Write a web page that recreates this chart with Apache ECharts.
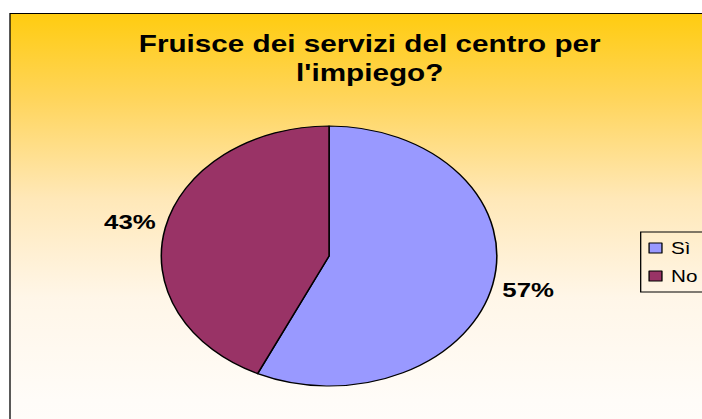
<!DOCTYPE html>
<html>
<head>
<meta charset="utf-8">
<script src="https://cdn.jsdelivr.net/npm/echarts@6/dist/echarts.min.js"></script>
<style>
  html, body { margin: 0; padding: 0; background: #fff; }
  #frame { width: 702px; height: 419px; overflow: hidden; }
  /* the original is a circular pie in a horizontally stretched chart */
  #chart { width: 544px; height: 419px; transform: scaleX(1.2904); transform-origin: 0 0; }
</style>
</head>
<body>
<div id="frame"><div id="chart"></div></div>
<script>
// --- Data ---
const titleText = 'Fruisce dei servizi del centro per\nl\'impiego?';
const categories = ['Sì', 'No'];
const values = [57, 43];
const sliceColors = ['#9999FF', '#993366'];

const FONT = '"Liberation Sans", Arial, sans-serif';

const chart = echarts.init(document.getElementById('chart'), null, { renderer: 'svg' });

chart.setOption({
    animation: false,
    backgroundColor: '#fff',
    graphic: [{
        type: 'rect',
        z: -10,
        silent: true,
        shape: { x: 7.75, y: 13.5, width: 560, height: 430 },
        style: {
            fill: new echarts.graphic.LinearGradient(0, 0, 0, 1, [
                { offset: 0, color: '#FFCC10' },
                { offset: 0.2, color: '#FFD55C' },
                { offset: 0.43, color: '#FFE8B8' },
                { offset: 0.66, color: '#FFF6E8' },
                { offset: 0.9, color: '#FFFCF8' },
                { offset: 1, color: '#FFFDFA' }
            ]),
            stroke: '#000',
            lineWidth: 1
        }
    }],
    title: {
        text: titleText,
        left: 281.5,
        top: 25,
        textAlign: 'center',
        textStyle: { fontFamily: FONT, fontSize: 23, fontWeight: 'bold', color: '#000', lineHeight: 29 }
    },
    legend: {
        orient: 'vertical',
        left: 496.5,
        top: 232,
        data: categories,
        icon: 'rect',
        itemWidth: 10,
        itemHeight: 10,
        itemGap: 12,
        padding: [8, 20, 8, 6],
        borderColor: '#000',
        borderWidth: 1,
        selectedMode: false,
        itemStyle: { borderColor: '#000', borderWidth: 1 },
        textStyle: { fontFamily: FONT, fontSize: 16, color: '#000', padding: [0, 0, 0, 2] }
    },
    series: [{
        type: 'pie',
        center: [255, 256],
        radius: 130,
        startAngle: 90,
        clockwise: true,
        avoidLabelOverlap: false,
        percentPrecision: 0,
        silent: true,
        data: categories.map((name, i) => ({
            name: name,
            value: values[i],
            itemStyle: { color: sliceColors[i] }
        })),
        itemStyle: { borderColor: '#000', borderWidth: 1.2 },
        label: {
            position: 'outside',
            formatter: '{d}%',
            fontFamily: FONT,
            fontSize: 20,
            fontWeight: 'bold',
            color: '#000'
        },
        labelLine: { show: false, length: 24, length2: -21 }
    }]
});
</script>
</body>
</html>
